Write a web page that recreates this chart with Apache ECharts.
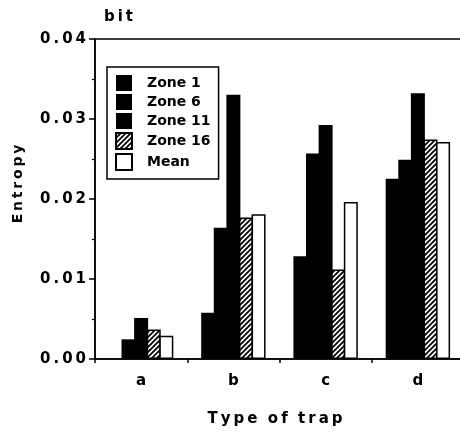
<!DOCTYPE html>
<html>
<head>
    <meta charset="utf-8">
    <title>Entropy by trap type</title>
    <script type="text/javascript" src="https://cdn.jsdelivr.net/npm/echarts@6/dist/echarts.min.js"></script>
    <style type="text/css">
        html, body { margin: 0; padding: 0; background: #fff; overflow: hidden; }
        /* plot box runs a few px past the right edge of the picture */
        #main { width: 464px; height: 432px; }
    </style>
</head>
<body>
    <div id="main"></div>
    <script type="text/javascript">
        // data
        var categories = ['a', 'b', 'c', 'd'];
        var zone1  = [0,       0.00578, 0.01284, 0.02252];
        var zone6  = [0.00246, 0.01641, 0.02568, 0.02490];
        var zone11 = [0.00513, 0.03303, 0.02925, 0.03323];
        var zone16 = [0.00369, 0.01768, 0.01120, 0.02745];
        var mean   = [0.00291, 0.01809, 0.01961, 0.02712];
        var yTicks = [0, 0.01, 0.02, 0.03, 0.04];

        var TS = '\u2009'; // thin space, the original text is letter spaced
        function spaced(s) {
            return s.split('').join(TS);
        }

        // hatch for zone 16
        var hatch = document.createElement('canvas');
        hatch.width = 5;
        hatch.height = 5;
        var hc = hatch.getContext('2d');
        hc.fillStyle = '#fff';
        hc.fillRect(0, 0, 5, 5);
        hc.strokeStyle = '#000';
        hc.lineWidth = 1.8;
        hc.beginPath();
        hc.moveTo(-1, 6); hc.lineTo(6, -1);
        hc.moveTo(-1, 1); hc.lineTo(1, -1);
        hc.moveTo(4, 6); hc.lineTo(6, 4);
        hc.stroke();

        var font = 'DejaVu Sans';

        var container = document.getElementById('main');
        var myChart = echarts.init(container);

        function barSeries(name, data, color, border) {
            return {
                name: name,
                type: 'bar',
                data: data,
                barWidth: 14,
                barGap: '-10%',
                itemStyle: {
                    color: color,
                    borderColor: '#000',
                    borderWidth: border
                }
            };
        }

        var option = {
            animation: false,
            title: {
                text: spaced('bit'),
                left: 99,
                top: 5,
                textStyle: { fontFamily: font, fontWeight: 'bold', fontSize: 15, color: '#000' }
            },
            grid: {
                left: 95,
                right: 0,
                top: 39,
                bottom: 68,
                show: true,
                borderColor: '#000',
                borderWidth: 1.5,
                containLabel: false
            },
            legend: {
                orient: 'vertical',
                left: 107,
                top: 67,
                padding: [8, 8, 8, 8],
                borderColor: '#000',
                borderWidth: 1.5,
                itemWidth: 16,
                itemHeight: 16,
                itemGap: 3,
                icon: 'rect',
                textStyle: { fontFamily: font, fontWeight: 'bold', fontSize: 14, color: '#000', padding: [0, 0, 0, 10] },
                data: ['Zone 1', 'Zone 6', 'Zone 11', 'Zone 16', 'Mean']
            },
            xAxis: {
                type: 'category',
                data: categories,
                name: spaced('Type') + '  ' + spaced('of') + '  ' + spaced('trap'),
                nameLocation: 'middle',
                nameGap: 53,
                nameTextStyle: { fontFamily: font, fontWeight: 'bold', fontSize: 15, color: '#000', padding: [0, 9, 0, 0] },
                axisLine: { lineStyle: { color: '#000', width: 1.5 } },
                axisTick: { show: true, length: 4, lineStyle: { color: '#000', width: 1.5 } },
                axisLabel: { margin: 15, fontFamily: font, fontWeight: 'bold', fontSize: 15, color: '#000' }
            },
            yAxis: {
                type: 'value',
                min: yTicks[0],
                max: yTicks[yTicks.length - 1],
                interval: 0.01,
                name: spaced('Entropy'),
                nameLocation: 'middle',
                nameRotate: 90,
                nameGap: 70,
                nameTextStyle: { fontFamily: font, fontWeight: 'bold', fontSize: 14, color: '#000', padding: [0, 0, 0, 30] },
                splitLine: { show: false },
                axisLine: { show: true, lineStyle: { color: '#000', width: 1.5 } },
                axisTick: { show: true, length: 6, lineStyle: { color: '#000', width: 1.5 } },
                minorTick: { show: true, splitNumber: 2, length: 3, lineStyle: { color: '#000', width: 1.2 } },
                axisLabel: {
                    margin: 9,
                    fontFamily: font,
                    fontWeight: 'bold',
                    fontSize: 15,
                    color: '#000',
                    formatter: function (v) { return spaced(v.toFixed(2)); }
                }
            },
            series: [
                barSeries('Zone 1', zone1, '#000', 0),
                barSeries('Zone 6', zone6, '#000', 0),
                barSeries('Zone 11', zone11, '#000', 0),
                barSeries('Zone 16', zone16, { image: hatch, repeat: 'repeat' }, 1.5),
                barSeries('Mean', mean, '#fff', 1.5)
            ]
        };

        myChart.setOption(option);
    </script>
</body>
</html>
